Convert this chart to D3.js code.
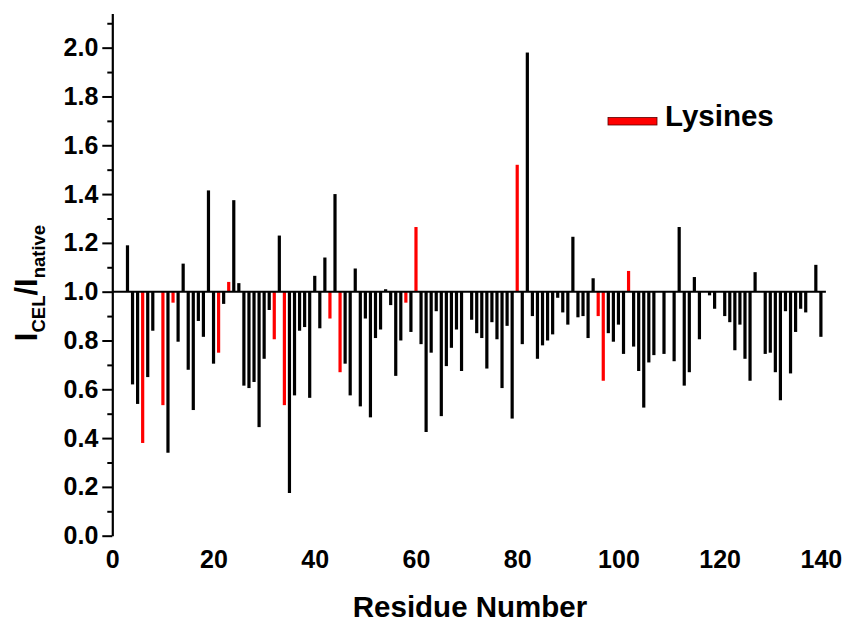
<!DOCTYPE html>
<html>
<head>
<meta charset="utf-8">
<script src="https://cdn.jsdelivr.net/npm/d3@7/dist/d3.min.js"></script>
<style>
  html, body { margin: 0; padding: 0; background: #fff; }
  svg { display: block; }
  text { font-family: "Liberation Sans", Arial, Helvetica, sans-serif; font-weight: bold; fill: #000; }
</style>
</head>
<body>
<svg id="chart" width="849" height="623"></svg>
<script>
// Residue numbers with a measured intensity ratio (prolines and a few others have no peak)
const residues = [
  3, 4, 5, 6, 7, 8, 10, 11, 12, 13, 14, 15, 16, 17, 18, 19, 20,
  21, 22, 23, 24, 25, 26, 27, 28, 29, 30, 31, 32, 33, 34, 35, 36, 37, 38, 39, 40,
  41, 42, 43, 44, 45, 46, 47, 48, 49, 50, 51, 52, 53, 54, 55, 56, 57, 58, 59, 60,
  61, 62, 63, 64, 65, 66, 67, 68, 69, 71, 72, 73, 74, 75, 76, 77, 78, 79, 80,
  81, 82, 83, 84, 85, 86, 87, 88, 89, 90, 91, 92, 93, 94, 95, 96, 97, 98, 99, 100,
  101, 102, 103, 104, 105, 106, 107, 109, 111, 112, 113, 114, 115, 116, 118, 119,
  121, 122, 123, 124, 125, 126, 127, 129, 130, 131, 132, 133, 134, 135, 136, 137, 139, 140
];

// I_CEL / I_native for each residue above
const ratios = [
  1.19, 0.62, 0.54, 0.38, 0.65, 0.84, 0.535, 0.34, 0.955, 0.795, 1.115, 0.68, 0.515, 0.88, 0.815, 1.415, 0.705,
  0.75, 0.95, 1.04, 1.375, 1.035, 0.615, 0.605, 0.63, 0.445, 0.725, 0.925, 0.805, 1.23, 0.535, 0.175, 0.575, 0.84, 0.855, 0.565, 1.065,
  0.85, 1.14, 0.89, 1.40, 0.67, 0.705, 0.575, 1.095, 0.53, 0.89, 0.485, 0.81, 0.845, 1.01, 0.945, 0.655, 0.80, 0.955, 0.835, 1.265,
  0.785, 0.425, 0.75, 0.92, 0.49, 0.695, 0.77, 0.845, 0.675, 0.885, 0.83, 0.81, 0.685, 0.875, 0.805, 0.605, 0.86, 0.48, 1.52,
  0.785, 1.98, 0.90, 0.725, 0.78, 0.80, 0.825, 0.975, 0.915, 0.865, 1.225, 0.895, 0.90, 0.81, 1.055, 0.90, 0.635, 0.83, 0.795, 0.865,
  0.745, 1.085, 0.775, 0.675, 0.525, 0.71, 0.74, 0.745, 0.715, 1.265, 0.615, 0.67, 1.06, 0.805, 0.985, 0.93,
  0.90, 0.875, 0.76, 0.865, 0.725, 0.635, 1.08, 0.745, 0.75, 0.67, 0.555, 0.92, 0.665, 0.835, 0.93, 0.915, 1.11, 0.815
];

// Lysine positions, highlighted in red
const lysines = [6, 10, 12, 21, 23, 32, 34, 43, 45, 58, 60, 80, 96, 97, 102];

const xTicks = [0, 20, 40, 60, 80, 100, 120, 140];
const yMajorTicks = [0.0, 0.2, 0.4, 0.6, 0.8, 1.0, 1.2, 1.4, 1.6, 1.8, 2.0];
const yMinorTicks = [0.1, 0.3, 0.5, 0.7, 0.9, 1.1, 1.3, 1.5, 1.7, 1.9, 2.1];
const reference = 1.0;
const legendLabel = "Lysines";
const xTitle = "Residue Number";

const data = residues.map((r, i) => ({ residue: r, value: ratios[i], lys: lysines.includes(r) }));

const svg = d3.select("#chart");

const x = d3.scaleLinear().domain([0, 140]).range([112.3, 820.9]);
const y = d3.scaleLinear().domain([0, 2.14]).range([535.7, 13.5]);

const barW = 3.2;

// Bars hang from the reference ratio of 1.0
svg.append("g").selectAll("rect")
  .data(data)
  .join("rect")
  .attr("x", d => x(d.residue) - barW / 2)
  .attr("y", d => y(Math.max(d.value, reference)))
  .attr("width", barW)
  .attr("height", d => Math.abs(y(d.value) - y(reference)))
  .attr("fill", d => d.lys ? "#ff0000" : "#000");

// Reference line at 1.0
svg.append("line")
  .attr("x1", x(0)).attr("x2", x(140) + 5)
  .attr("y1", y(reference)).attr("y2", y(reference))
  .attr("stroke", "#000").attr("stroke-width", 2);

// Y axis: labelled major ticks and unlabelled minor ticks
const yAxis = svg.append("g").attr("transform", `translate(${x(0)},0)`)
  .call(d3.axisLeft(y).tickValues(yMajorTicks).tickSize(10).tickSizeOuter(0).tickPadding(4).tickFormat(d3.format(".1f")));
yAxis.select(".domain").attr("stroke-width", 2.2);
yAxis.selectAll(".tick line").attr("stroke-width", 2);
yAxis.selectAll(".tick text").style("font-size", "25px").style("font-family", null);

const yMinor = svg.append("g").attr("transform", `translate(${x(0)},0)`)
  .call(d3.axisLeft(y).tickValues(yMinorTicks).tickSize(5).tickFormat(""));
yMinor.select(".domain").remove();
yMinor.selectAll(".tick line").attr("stroke-width", 2);

// X axis: labels only
const xAxis = svg.append("g").attr("transform", `translate(0,${y(0)})`)
  .call(d3.axisBottom(x).tickValues(xTicks).tickSize(0).tickPadding(15));
xAxis.select(".domain").remove();
xAxis.selectAll(".tick text").style("font-size", "25px").style("font-family", null);

// Axis titles
svg.append("text")
  .attr("x", 470).attr("y", 617)
  .attr("text-anchor", "middle")
  .style("font-size", "29.5px")
  .text(xTitle);

const yt = svg.append("text")
  .attr("transform", "translate(37,283) rotate(-90)")
  .attr("text-anchor", "middle")
  .style("font-size", "31px");
yt.append("tspan").text("I");
yt.append("tspan").attr("dy", 7.5).style("font-size", "18.5px").text("CEL");
yt.append("tspan").attr("dy", -7.5).text("/I");
yt.append("tspan").attr("dy", 7.5).style("font-size", "18.5px").text("native");

// Legend
svg.append("rect")
  .attr("x", 608).attr("y", 117.5).attr("width", 49).attr("height", 7.5)
  .attr("fill", "#ff0000").attr("stroke", "#5a0000").attr("stroke-width", 0.8);
svg.append("text")
  .attr("x", 665).attr("y", 126)
  .style("font-size", "29.5px")
  .text(legendLabel);
</script>
</body>
</html>
